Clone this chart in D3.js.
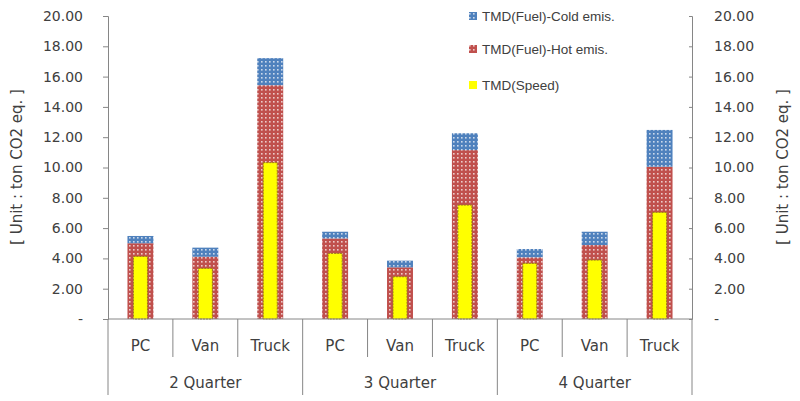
<!DOCTYPE html>
<html><head><meta charset="utf-8">
<script src="https://cdn.jsdelivr.net/npm/d3@7"></script>
<style>
html,body{margin:0;padding:0;background:#fff;}
text{font-family:"DejaVu Sans",sans-serif;fill:#404040;}
</style></head>
<body><svg id="c" width="800" height="401"></svg>
<script>
const quarters = ["2 Quarter","3 Quarter","4 Quarter"];
const vehicles = ["PC","Van","Truck"];
const speed = [4.13,3.34,10.32, 4.33,2.79,7.52, 3.67,3.89,7.04];
const fuelHot = [5.00,4.11,15.43, 5.32,3.41,11.15, 4.07,4.88,10.05];
const fuelCold = [0.48,0.60,1.79, 0.44,0.44,1.11, 0.55,0.88,2.43];
const yTicks = [0,2,4,6,8,10,12,14,16,18,20];
const seriesNames = ["TMD(Fuel)-Cold emis.","TMD(Fuel)-Hot emis.","TMD(Speed)"];

const svg = d3.select("#c");
const L = 108, R = 692, T = 16, B = 319;
const cats = [];
quarters.forEach((q,qi)=>vehicles.forEach((v,vi)=>cats.push({q,v,i:qi*3+vi})));

const x = d3.scaleBand().domain(cats.map(d=>d.i)).range([L,R]).paddingInner(0.6).paddingOuter(0.3);
const xs = d3.scaleBand().domain(cats.map(d=>d.i)).range([L,R]).paddingInner(0.784).paddingOuter(0.392);
const xc = d3.scaleBand().domain(cats.map(d=>d.i)).range([L,R]);
const y = d3.scaleLinear().domain([0,20]).range([B,T]);

const defs = svg.append("defs");
function pat(id, col){
  const p = defs.append("pattern").attr("id",id).attr("width",4).attr("height",4).attr("patternUnits","userSpaceOnUse");
  p.append("rect").attr("width",4).attr("height",4).attr("fill",col);
  p.append("rect").attr("x",1).attr("y",1).attr("width",1.6).attr("height",1.6).attr("fill","#fff").attr("opacity",0.7);
}
pat("pRed","#C0504D");
pat("pBlue","#4F81BD");

// axes
const fmt = v => v===0 ? "-" : v.toFixed(2);
const gl = svg.append("g").attr("transform",`translate(${L},0)`)
  .call(d3.axisLeft(y).tickValues(yTicks).tickFormat(fmt).tickSize(5).tickPadding(20));
const gr = svg.append("g").attr("transform",`translate(${R},0)`)
  .call(d3.axisRight(y).tickValues(yTicks).tickFormat(fmt).tickSize(-3).tickPadding(22));
[gl,gr].forEach(g=>{
  g.selectAll("path,line").attr("stroke","#868686");
  g.selectAll("text").attr("font-size",14).attr("fill","#404040").style("font-family","DejaVu Sans");
});

// bars
const g = svg.append("g");
g.selectAll(".hot").data(cats).join("rect")
  .attr("x",d=>x(d.i)).attr("width",x.bandwidth())
  .attr("y",d=>y(fuelHot[d.i])).attr("height",d=>y(0)-y(fuelHot[d.i]))
  .attr("fill","url(#pRed)");
g.selectAll(".cold").data(cats).join("rect")
  .attr("x",d=>x(d.i)).attr("width",x.bandwidth())
  .attr("y",d=>y(fuelHot[d.i]+fuelCold[d.i])).attr("height",d=>y(fuelHot[d.i])-y(fuelHot[d.i]+fuelCold[d.i]))
  .attr("fill","url(#pBlue)");
g.selectAll(".spd").data(cats).join("rect")
  .attr("x",d=>xs(d.i)).attr("width",xs.bandwidth())
  .attr("y",d=>y(speed[d.i])).attr("height",d=>y(0)-y(speed[d.i]))
  .attr("fill","#FFFF00").attr("stroke","#9C7A1A").attr("stroke-width",1).attr("stroke-dasharray","2,1");

// category axis
const ca = svg.append("g");
ca.append("line").attr("x1",L).attr("x2",R).attr("y1",B).attr("y2",B).attr("stroke","#868686");
const bounds = d3.range(10).map(k=> k<9 ? xc(k) : xc(8)+xc.bandwidth());
bounds.forEach((bx,k)=>{
  ca.append("line").attr("x1",bx).attr("x2",bx).attr("y1",B).attr("y2", k%3===0 ? 395 : 357).attr("stroke","#868686");
});
ca.selectAll(".cl").data(cats).join("text")
  .attr("x",d=>xc(d.i)+xc.bandwidth()/2).attr("y",351).attr("text-anchor","middle")
  .attr("font-size",15).text(d=>d.v);
ca.selectAll(".ql").data(quarters).join("text")
  .attr("x",(d,i)=>(xc(i*3)+xc(i*3+2)+xc.bandwidth())/2).attr("y",388).attr("text-anchor","middle")
  .attr("font-size",15).text(d=>d);

// axis titles
svg.append("text").attr("transform","translate(22,167) rotate(-90)").attr("text-anchor","middle")
  .attr("font-size",15).text("[ Unit : ton CO2 eq. ]");
svg.append("text").attr("transform","translate(788,167) rotate(-90)").attr("text-anchor","middle")
  .attr("font-size",15).text("[ Unit : ton CO2 eq. ]");

// legend
const lf = ["url(#pBlue)","url(#pRed)","#FFFF00"];
const ly = [16,49,85];
const lg = svg.append("g");
seriesNames.forEach((n,i)=>{
  lg.append("rect").attr("x",469).attr("y",ly[i]-4).attr("width",8).attr("height",8).attr("fill",lf[i]);
  lg.append("text").attr("x",482).attr("y",ly[i]+5).attr("font-size",13.5)
    .style("font-family","Liberation Sans").text(n);
});
</script></body></html>
